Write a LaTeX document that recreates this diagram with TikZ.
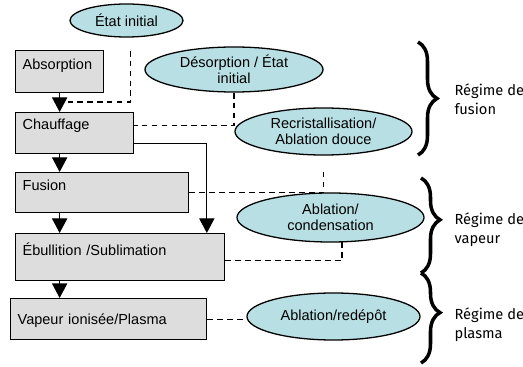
\documentclass[tikz,border=0pt]{standalone}
\usepackage{fontspec}
\setmainfont{Liberation Sans}
\newfontfamily\regimefont{Fira Sans}
\usetikzlibrary{arrows.meta,shapes.geometric,decorations.pathreplacing}
\definecolor{bleu}{HTML}{B8DFE3}
\definecolor{gris}{HTML}{DDDDDD}

\begin{document}
\begin{tikzpicture}[x=0.03cm, y=-0.03cm, line width=1.1pt,
        font=\fontsize{12.4}{14}\selectfont,
        etape/.style = {draw, fill=gris, anchor=north west, inner xsep=0.21cm, inner ysep=0pt, align=left},
        bulle/.style = {draw, ellipse, fill=bleu, inner sep=0pt, align=center},
        fleche/.style = {-{Triangle[width=13pt,length=12.5pt]}},
        lien/.style = {dashed, dash pattern=on 5pt off 3.5pt},
        accolade/.style = {decorate, decoration={brace, amplitude=0.57cm}, line width=3pt},
        regime/.style = {anchor=west, align=left, font=\regimefont\fontsize{12.5}{16}\selectfont}]
        \useasboundingbox (0,0) rectangle (523,367);

        \node[etape, text width=2.22cm, text height=0.57cm, text depth=0.69cm] (abs)   at (15,50)  {Absorption};
        \node[etape, text width=3.12cm, text height=0.51cm, text depth=0.72cm] (chauf) at (15,112) {Chauffage};
        \node[etape, text width=4.77cm, text height=0.54cm, text depth=0.66cm] (fus)   at (15,172) {Fusion};
        \node[etape, text width=5.85cm, text height=0.66cm, text depth=0.75cm] (ebu)   at (15,233) {Ébullition /Sublimation};
        \node[etape, text width=5.46cm, text height=0.78cm, text depth=0.45cm] (vap)   at (10,298) {Vapeur ionisée/Plasma};

        \node[bulle, minimum width=3.39cm, minimum height=0.99cm] (etat)    at (126.5,20.5)  {État initial};
        \node[bulle, minimum width=5.34cm, minimum height=1.35cm] (desorp)  at (234,69.5)    {Désorption / État\\initial};
        \node[bulle, minimum width=5.31cm, minimum height=1.41cm] (recrist) at (323.5,131.5) {Recristallisation/\\Ablation douce};
        \node[bulle, minimum width=5.61cm, minimum height=1.47cm] (ablcond) at (330.5,217.5) {Ablation/\\condensation};
        \node[bulle, minimum width=5.19cm, minimum height=1.41cm] (redepot) at (333.5,316.5) {Ablation/redépôt};

        \node[regime] (rfus) at (450,99)  {Régime de\\fusion};
        \node[regime] (rvap) at (450,230) {Régime de\\vapeur};
        \node[regime] (rpla) at (450,325) {Régime de\\plasma};

        % etapes
        \draw[fleche] (abs.south) -- (abs.south |- chauf.north);
        \draw[fleche] (abs.south |- chauf.south) -- (abs.south |- fus.north);
        \draw[fleche] (abs.south |- fus.south) -- (abs.south |- ebu.north);
        \draw[fleche] (abs.south |- ebu.south) -- (abs.south |- vap.north);
        \draw[fleche] ([yshift=-0.315cm]chauf.east) -| ([xshift=2.6cm]ebu.north);

        % liens
        \coordinate (finetat) at (68,102);
        \draw[lien, shorten <=0.39cm] ([xshift=0.13cm]etat.south) |- (finetat);
        \draw[lien] (desorp.south) |- ([yshift=0.225cm]chauf.east);
        \draw[lien, shorten >=0.4cm] (fus.east) -| (recrist.south);
        \draw[lien] ([yshift=-0.1cm]ebu.east) -| (ablcond.-65);
        \draw[lien] (vap.east) -- (vap.east -| redepot.west);

        % accolades
        \draw[accolade] (418,42) -- (418,155);
        \draw[accolade, decoration={aspect=0.44}] (421,178) -- (421,273);
        \draw[accolade, decoration={aspect=0.44}] (421,273) -- (421,363);

\end{tikzpicture}
\end{document}
